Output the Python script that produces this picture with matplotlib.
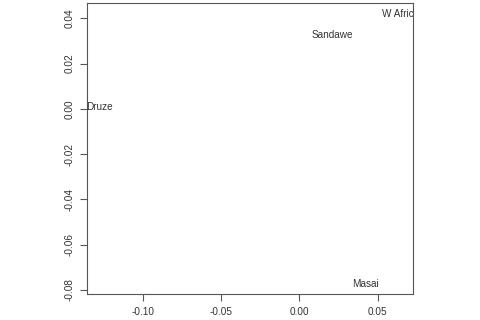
import numpy as np
import matplotlib
matplotlib.use("Agg")
import matplotlib.pyplot as plt

# MDS coordinates
labels = ["W Africa", "Sandawe", "Druze", "Masai"]
dim1 = [0.0649, 0.0209, -0.1278, 0.0420]
dim2 = [0.0420, 0.0327, 0.0010, -0.0772]

x_ticks = [-0.10, -0.05, 0.00, 0.05]
x_tick_labels = ["-0.10", "-0.05", "0.00", "0.05"]
y_ticks = [0.04, 0.02, 0.00, -0.02, -0.04, -0.06, -0.08]
y_tick_labels = ["0.04", "0.02", "0.00", "-0.02", "-0.04", "-0.06", "-0.08"]

plt.rcParams['font.family'] = ['Liberation Sans', 'DejaVu Sans']

fig = plt.figure(figsize=(4.8, 3.2), dpi=100)
ax = fig.add_axes([0.1806, 0.0797, 0.6798, 0.9109])

# empty plot (type="n"), just to set the data range
ax.plot([min(dim1), max(dim1)], [min(dim2), max(dim2)], linestyle='none')
ax.set_xlim(-0.1357, 0.0726)
ax.set_ylim(-0.0820, 0.0468)

for lab, x, y in zip(labels, dim1, dim2):
    ax.text(x, y, lab, ha='center', va='center', fontsize=7.2,
            color='#333333', clip_on=True)

ax.set_xticks(x_ticks)
ax.set_xticklabels(x_tick_labels)
ax.set_yticks(y_ticks)
ax.set_yticklabels(y_tick_labels, rotation=90, va='center')

ax.tick_params(axis='both', direction='out', length=5, width=0.8,
               color='#555555', labelsize=7.2, labelcolor='#333333', pad=4)
for side in ['top', 'bottom', 'left', 'right']:
    ax.spines[side].set_color('#555555')
    ax.spines[side].set_linewidth(0.8)

fig.savefig("out.png", dpi=100, facecolor='white')
plt.close(fig)
